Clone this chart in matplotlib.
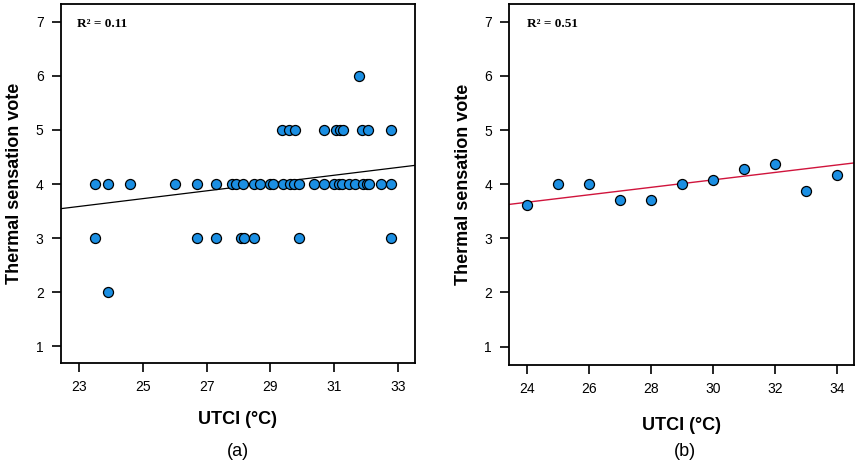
import numpy as np
import matplotlib
matplotlib.use("Agg")
import matplotlib.pyplot as plt

plt.rcParams['font.family'] = ['Liberation Sans', 'DejaVu Sans']

# panel (a): individual votes, grouped by vote level
utci_a_tsv4 = [23.5, 23.91, 24.59, 26.0, 26.69, 27.28, 27.80, 27.91, 28.15, 28.48,
               28.67, 28.98, 29.07, 29.38, 29.60, 29.73, 29.88, 30.38, 30.67, 31.0,
               31.14, 31.24, 31.45, 31.66, 31.90, 32.02, 32.10, 32.47, 32.78]
utci_a_tsv5 = [29.37, 29.57, 29.78, 30.69, 31.06, 31.17, 31.27, 31.87, 32.07, 32.77]
utci_a_tsv3 = [23.5, 26.69, 27.28, 28.08, 28.17, 28.48, 29.88, 32.77]
utci_a_tsv6 = [31.79]
utci_a_tsv2 = [23.91]
fit_a = [0.0722, 1.925]   # slope, intercept
r2_a = "R² = 0.11"

# panel (b): mean vote per 1 degree bin
utci_b = [24, 25, 26, 27, 28, 29, 30, 31, 32, 33, 34]
tsv_b = [3.62, 4.0, 4.0, 3.70, 3.71, 4.0, 4.07, 4.28, 4.37, 3.88, 4.17]
fit_b = [0.0689, 2.013]
r2_b = "R² = 0.51"

dot_color = "#1b8fe3"

fig = plt.figure(figsize=(8.58, 4.66), dpi=100)
ax1 = fig.add_axes([0.0711, 0.2210, 0.4126, 0.7704])
ax2 = fig.add_axes([0.5936, 0.2167, 0.4017, 0.7747])

xa = []
ya = []
for vote, vals in [(4, utci_a_tsv4), (5, utci_a_tsv5), (3, utci_a_tsv3),
                   (6, utci_a_tsv6), (2, utci_a_tsv2)]:
    xa += vals
    ya += [vote] * len(vals)

ax1.scatter(xa, ya, s=52, color=dot_color, edgecolor="black", linewidth=0.9, zorder=3)
xl1 = np.array([22.44, 33.53])
ax1.plot(xl1, fit_a[0] * xl1 + fit_a[1], color="black", lw=0.9, zorder=2)
ax1.set_xlim(xl1)
ax1.set_ylim(0.69, 7.33)
ax1.set_xticks([23, 25, 27, 29, 31, 33])
ax1.text(0.045, 0.944, r2_a, transform=ax1.transAxes, family="Liberation Serif",
         fontweight="bold", fontsize=9.5, va="center")

ax2.scatter(utci_b, tsv_b, s=52, color=dot_color, edgecolor="black", linewidth=0.9, zorder=3)
xl2 = np.array([23.44, 34.55])
ax2.plot(xl2, fit_b[0] * xl2 + fit_b[1], color="#d0143c", lw=1.0, zorder=2)
ax2.set_xlim(xl2)
ax2.set_ylim(0.66, 7.33)
ax2.set_xticks([24, 26, 28, 30, 32, 34])
ax2.text(0.05, 0.944, r2_b, transform=ax2.transAxes, family="Liberation Serif",
         fontweight="bold", fontsize=9.5, va="center")

for ax in (ax1, ax2):
    ax.set_yticks([1, 2, 3, 4, 5, 6, 7])
    ax.tick_params(direction="out", length=6.5, width=1.2, labelsize=10, pad=6)
    for sp in ax.spines.values():
        sp.set_linewidth(1.3)
    ax.set_ylabel("Thermal sensation vote", fontsize=13, fontweight="bold", labelpad=9)

fig.text(238 / 858, 1 - 419 / 466, "UTCI (°C)", ha="center", va="center",
         fontsize=13, fontweight="bold")
fig.text(238 / 858, 1 - 452 / 466, "(a)", ha="center", va="center", fontsize=13)
fig.text(682 / 858, 1 - 425 / 466, "UTCI (°C)", ha="center", va="center",
         fontsize=13, fontweight="bold")
fig.text(685 / 858, 1 - 452 / 466, "(b)", ha="center", va="center", fontsize=13)

fig.savefig("out.png", dpi=100)
